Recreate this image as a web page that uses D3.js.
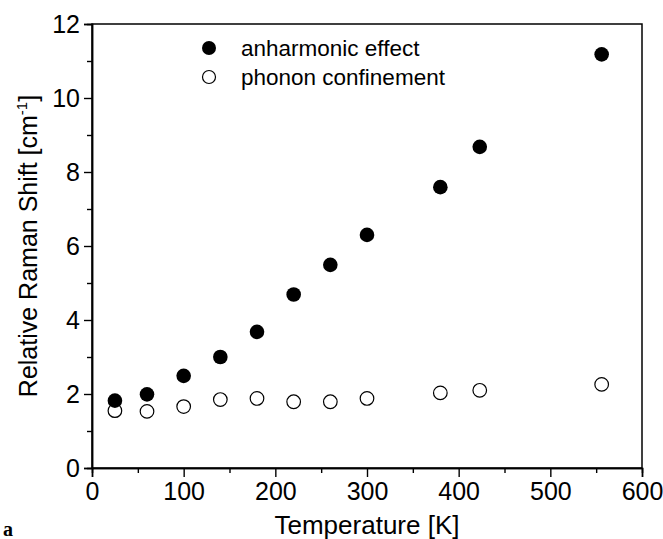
<!DOCTYPE html>
<html>
<head>
<meta charset="utf-8">
<script src="https://cdn.jsdelivr.net/npm/d3@7"></script>
<style>
  body { margin: 0; background: #fff; }
  svg text { font-family: "Liberation Sans", Arial, sans-serif; fill: #000; }
</style>
</head>
<body>
<div id="chart"></div>
<script>
// data
const temperatures = [25, 60, 100, 140, 180, 220, 260, 300, 380, 423, 556];
const anharmonic = [1.82, 1.99, 2.49, 3.0, 3.68, 4.69, 5.49, 6.3, 7.59, 8.68, 11.18];
const confinement = [1.55, 1.53, 1.66, 1.85, 1.88, 1.79, 1.79, 1.88, 2.03, 2.1, 2.26];
const xTicks = [0, 100, 200, 300, 400, 500, 600];
const yTicks = [0, 2, 4, 6, 8, 10, 12];
const seriesNames = ['anharmonic effect', 'phonon confinement'];

const width = 663, height = 539;
const margin = {top: 24, right: 21, bottom: 71, left: 92};

const svg = d3.select('#chart').append('svg')
  .attr('width', width)
  .attr('height', height);

const x = d3.scaleLinear().domain([0, 600]).range([margin.left, width - margin.right]);
const y = d3.scaleLinear().domain([0, 12]).range([height - margin.bottom, margin.top]);

// frame
svg.append('rect')
  .attr('x', x(0)).attr('y', y(12))
  .attr('width', x(600) - x(0)).attr('height', y(0) - y(12))
  .attr('fill', 'none').attr('stroke', '#000').attr('stroke-width', 1.5);

// minor ticks first, then major ones with labels
const xAxisMinor = d3.axisBottom(x).tickValues(d3.range(50, 600, 100)).tickSize(5).tickFormat('');
const yAxisMinor = d3.axisLeft(y).tickValues(d3.range(1, 12, 2)).tickSize(5).tickFormat('');
const xAxis = d3.axisBottom(x).tickValues(xTicks).tickSize(9).tickPadding(5);
const yAxis = d3.axisLeft(y).tickValues(yTicks).tickSize(8).tickPadding(4);

function styleAxis(g) {
  g.select('.domain').attr('stroke-width', 1.5);
  g.selectAll('.tick line').attr('stroke-width', 1.4);
  g.selectAll('.tick text')
    .style('font-size', '25px')
    .style('font-family', '"Liberation Sans", Arial, sans-serif');
}

svg.append('g').attr('transform', `translate(0,${y(0)})`).call(xAxisMinor).call(styleAxis);
svg.append('g').attr('transform', `translate(${x(0)},0)`).call(yAxisMinor).call(styleAxis);
svg.append('g').attr('transform', `translate(0,${y(0)})`).call(xAxis).call(styleAxis);
svg.append('g').attr('transform', `translate(${x(0)},0)`).call(yAxis).call(styleAxis);

// points
const points = temperatures.map((t, i) => ({t: t, a: anharmonic[i], c: confinement[i]}));

svg.append('g').selectAll('circle')
  .data(points)
  .enter().append('circle')
  .attr('cx', d => x(d.t))
  .attr('cy', d => y(d.a))
  .attr('r', 7.3)
  .attr('fill', '#000');

svg.append('g').selectAll('circle')
  .data(points)
  .enter().append('circle')
  .attr('cx', d => x(d.t))
  .attr('cy', d => y(d.c))
  .attr('r', 6.8)
  .attr('fill', 'none')
  .attr('stroke', '#000')
  .attr('stroke-width', 1.2);

// legend
const legend = svg.append('g');
seriesNames.forEach((name, i) => {
  const ly = 48 + i * 29;
  legend.append('circle')
    .attr('cx', 209).attr('cy', ly)
    .attr('r', i === 0 ? 7 : 6.5)
    .attr('fill', i === 0 ? '#000' : 'none')
    .attr('stroke', '#000')
    .attr('stroke-width', i === 0 ? 0 : 1.2);
  legend.append('text')
    .attr('x', 241).attr('y', ly + 8)
    .style('font-size', '22.5px')
    .text(name);
});

// axis titles
svg.append('text')
  .attr('x', (x(0) + x(600)) / 2)
  .attr('y', 534)
  .attr('text-anchor', 'middle')
  .style('font-size', '26px')
  .text('Temperature [K]');

const yTitle = svg.append('text')
  .attr('transform', `translate(37,${(y(0) + y(12)) / 2}) rotate(-90)`)
  .attr('text-anchor', 'middle')
  .style('font-size', '25px');
yTitle.append('tspan').text('Relative Raman Shift [cm');
yTitle.append('tspan').attr('dy', -10).style('font-size', '15px').text('-1');
yTitle.append('tspan').attr('dy', 10).text(']');

// panel letter
svg.append('text')
  .attr('x', 3).attr('y', 536)
  .style('font-family', '"Liberation Serif", "DejaVu Serif", serif')
  .style('font-weight', 'bold')
  .style('font-size', '20px')
  .text('a');
</script>
</body>
</html>
